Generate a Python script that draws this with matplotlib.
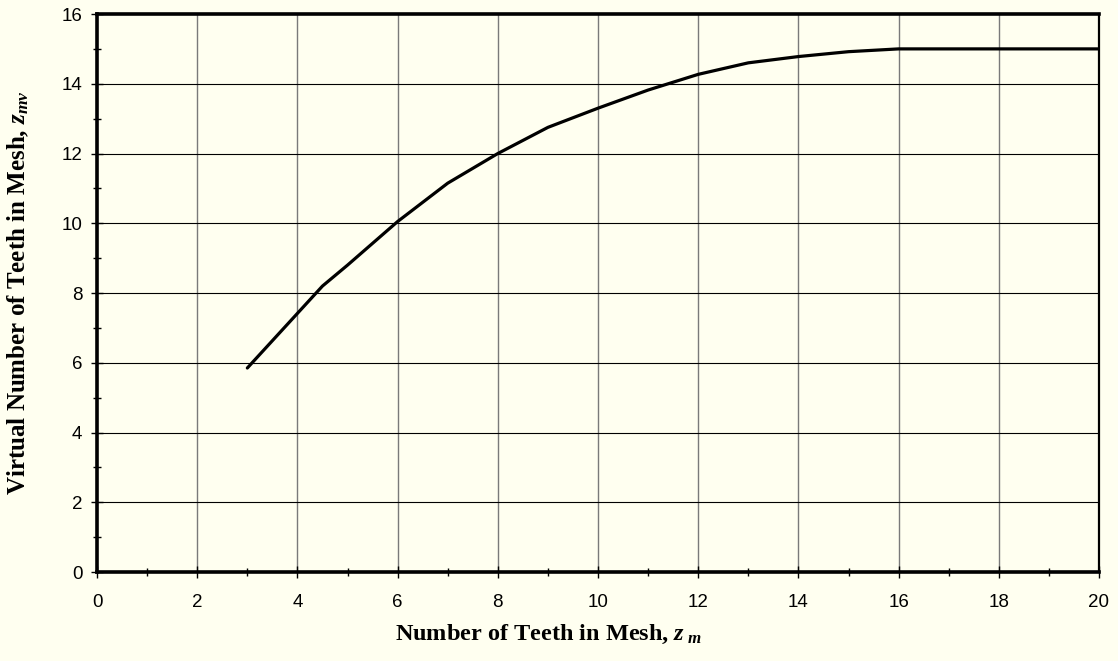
"""Virtual number of teeth vs number of teeth in mesh."""

import matplotlib
matplotlib.use("Agg")
import matplotlib.pyplot as plt
from matplotlib.ticker import MultipleLocator

# values
teeth_in_mesh = [3, 4.5, 5, 6, 7, 8, 9, 10, 11, 12, 13, 14, 15, 16, 20]
virtual_teeth = [5.85, 8.2, 8.8, 10.05, 11.15, 12.0, 12.75, 13.3, 13.82,
                 14.27, 14.6, 14.78, 14.92, 15.0, 15.0]

x_ticks = list(range(0, 21, 2))
y_ticks = list(range(0, 17, 2))

BG = "#FFFFF0"

plt.rcParams["mathtext.fontset"] = "custom"
plt.rcParams["mathtext.rm"] = "Liberation Serif:bold"
plt.rcParams["mathtext.it"] = "Liberation Serif:italic:bold"

fig = plt.figure(figsize=(11.18, 6.61), dpi=100, facecolor=BG)
ax = fig.add_axes([0.0868, 0.1346, 0.8962, 0.8442], facecolor=BG)

ax.plot(teeth_in_mesh, virtual_teeth, color="black", lw=2.3,
        solid_capstyle="round", zorder=3)

ax.set_xlim(0, 20)
ax.set_ylim(0, 16)
ax.set_xticks(x_ticks)
ax.set_yticks(y_ticks)
ax.xaxis.set_minor_locator(MultipleLocator(1))
ax.yaxis.set_minor_locator(MultipleLocator(1))

# Excel-like grid: grey verticals, black horizontals
for x in x_ticks[1:-1]:
    ax.axvline(x, color="#7a7a7a", lw=1.0, zorder=1)
for y in y_ticks[1:-1]:
    ax.axhline(y, color="black", lw=0.8, zorder=1)

for side in ("left", "bottom", "top"):
    ax.spines[side].set_linewidth(2.6)
ax.spines["right"].set_linewidth(1.6)

ax.tick_params(which="major", direction="inout", length=9, width=1.0,
               labelsize=13.5)
ax.tick_params(axis="x", which="major", pad=11)
ax.tick_params(axis="y", which="major", pad=6)
ax.tick_params(which="minor", direction="inout", length=6, width=1.0)
for lbl in ax.get_xticklabels() + ax.get_yticklabels():
    lbl.set_fontfamily("Liberation Sans")

ax.set_ylabel(r"Virtual Number of Teeth in Mesh, $z_{mv}$",
              family="Liberation Serif", fontweight="bold", fontsize=18)
ax.yaxis.set_label_coords(-0.066, 0.5)
ax.set_xlabel(r"Number of Teeth in Mesh, $z_{\ m}$",
              family="Liberation Serif", fontweight="bold", fontsize=17.5)
ax.xaxis.set_label_coords(0.451, -0.092)

fig.savefig("out.png", facecolor=BG)
plt.close(fig)
